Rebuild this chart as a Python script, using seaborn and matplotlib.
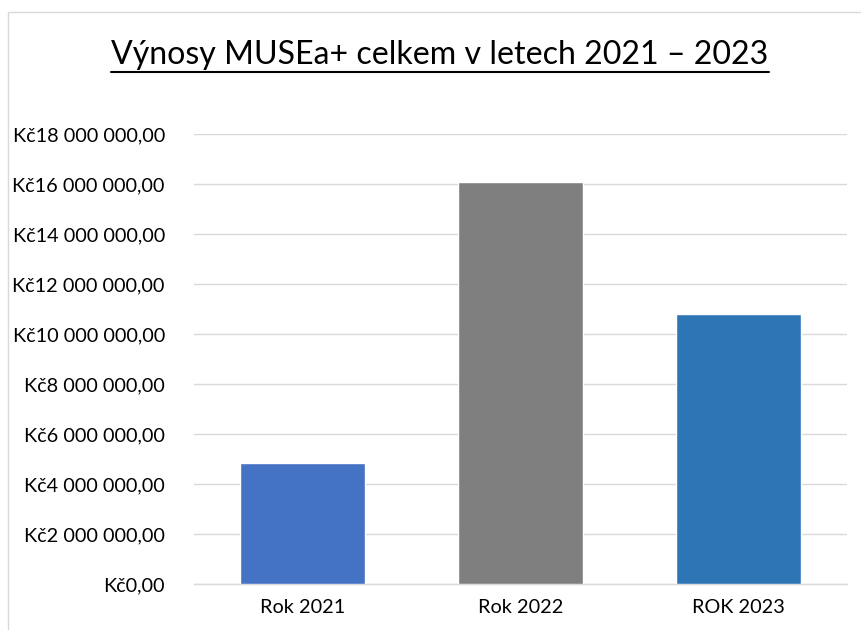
import matplotlib
matplotlib.use("Agg")
import matplotlib.pyplot as plt
import seaborn as sns
import pandas as pd
from matplotlib.ticker import FuncFormatter, MultipleLocator
from matplotlib.patches import Rectangle
from matplotlib.lines import Line2D

categories = ["Rok 2021", "Rok 2022", "ROK 2023"]
values = [4850000, 16070000, 10790000]
colors = ["#4472C4", "#7F7F7F", "#2E75B6"]
title = "Výnosy MUSEa+ celkem v letech 2021 – 2023"

sns.set_theme(style="white")
plt.rcParams["font.family"] = ["Lato", "DejaVu Sans"]

df = pd.DataFrame({"cat": categories, "val": values})

fig = plt.figure(figsize=(8.61, 6.30), dpi=100)
ax = fig.add_axes([0.2253, 0.0730, 0.9837 - 0.2253, 0.7873 - 0.0730])

sns.barplot(data=df, x="cat", y="val", hue="cat", palette=colors,
            width=0.574, legend=False, ax=ax, saturation=1, zorder=3)

ax.set_ylim(0, 18000000)
ax.set_xlim(-0.5, 2.5)
ax.yaxis.set_major_locator(MultipleLocator(2000000))

def fmt(v, pos):
    s = f"{int(round(v)):,}".replace(",", " ")
    return f"Kč{s},00"

ax.yaxis.set_major_formatter(FuncFormatter(fmt))
ax.grid(axis="y", color="#D9D9D9", linewidth=1.0, zorder=0)
ax.set_axisbelow(True)
for s in ["top", "right", "left"]:
    ax.spines[s].set_visible(False)
ax.spines["bottom"].set_color("#D9D9D9")
ax.spines["bottom"].set_linewidth(1.0)
ax.set_xlabel("")
ax.set_ylabel("")
ax.tick_params(axis="y", length=0, pad=21, labelsize=14.3, labelcolor="#000000")
ax.tick_params(axis="x", length=0, pad=11, labelsize=14.3, labelcolor="#000000")

t = fig.text(440 / 861, 1 - 64 / 630, title, ha="center", va="baseline",
             fontsize=23.1, color="#000000")

# figure border
fig.add_artist(Rectangle((8 / 861, -0.05), 1.0, 1 - 12 / 630 + 0.05,
                         transform=fig.transFigure, fill=False,
                         edgecolor="#D9D9D9", linewidth=1.0, clip_on=False))

fig.canvas.draw()
bb = t.get_window_extent(renderer=fig.canvas.get_renderer())
y_line = bb.y0 - 2
fig.add_artist(Line2D([bb.x0 / 861, bb.x1 / 861], [y_line / 630, y_line / 630],
                      transform=fig.transFigure, color="#000000", linewidth=1.5))

fig.savefig("out.png", dpi=100)
